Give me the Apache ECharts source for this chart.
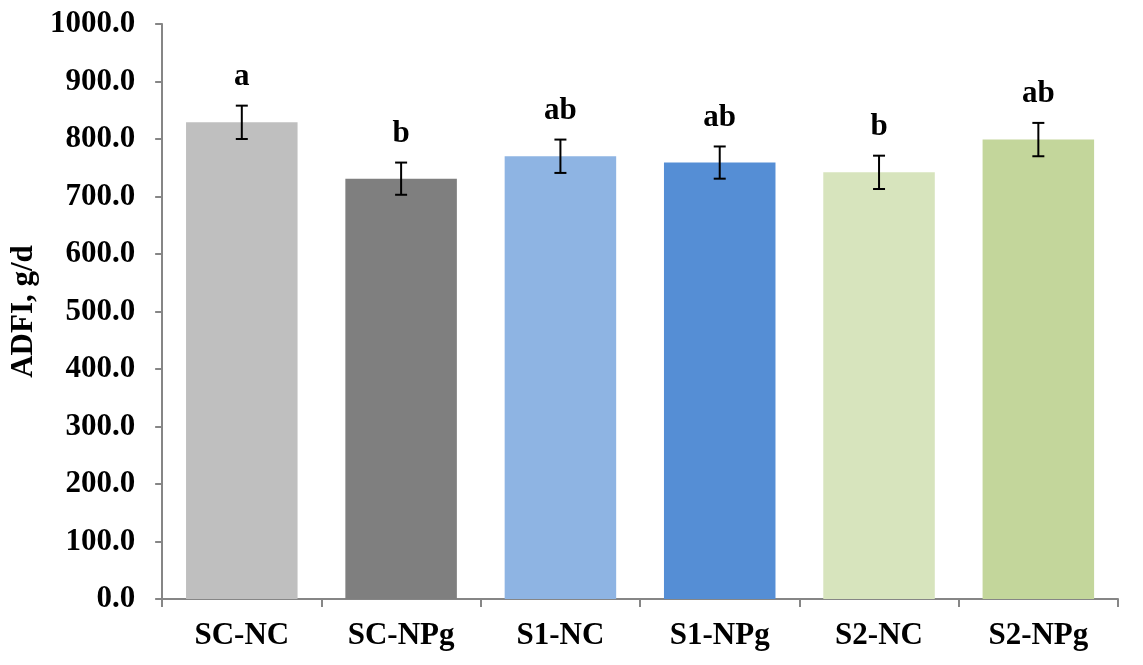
<!DOCTYPE html>
<html><head><meta charset="utf-8">
<script src="https://cdn.jsdelivr.net/npm/echarts@6/dist/echarts.min.js"></script>
<style>html,body{margin:0;padding:0;background:#fff}#c{width:1143px;height:665px}</style>
</head><body><div id="c"></div>
<script>
const categories = ['SC-NC','SC-NPg','S1-NC','S1-NPg','S2-NC','S2-NPg'];
const values = [829, 731, 770, 759, 742, 799];
const errors = [29, 28, 29, 28, 29, 29];
const letters = ['a','b','ab','ab','b','ab'];
const colors = ['#bfbfbf','#7f7f7f','#8eb4e3','#558ed5','#d7e4bd','#c3d69b'];
const yTicks = {min: 0, max: 1000, interval: 100};

const FONT = '"Liberation Serif","Times New Roman",serif';
const chart = echarts.init(document.getElementById('c'));
chart.setOption({
  animation: false,
  grid: {left: 162, right: 25, top: 24, bottom: 66},
  xAxis: {
    type: 'category', data: categories, boundaryGap: true,
    axisLine: {lineStyle: {color: '#868686', width: 2}},
    axisTick: {show: true, length: 8, alignWithLabel: false, lineStyle: {color: '#868686', width: 2}},
    axisLabel: {color: '#000', fontFamily: FONT, fontWeight: 'bold', fontSize: 31, margin: 21}
  },
  yAxis: {
    type: 'value', min: yTicks.min, max: yTicks.max, interval: yTicks.interval,
    name: 'ADFI, g/d', nameLocation: 'middle', nameGap: 114, nameRotate: 90,
    nameTextStyle: {color: '#000', fontFamily: FONT, fontWeight: 'bold', fontSize: 31},
    axisLine: {show: true, lineStyle: {color: '#868686', width: 2}},
    axisTick: {show: true, length: 7, lineStyle: {color: '#868686', width: 2}},
    splitLine: {show: false},
    axisLabel: {color: '#000', fontFamily: FONT, fontWeight: 'bold', fontSize: 31, margin: 27,
      formatter: v => v.toFixed(1)}
  },
  series: [
    {
      type: 'bar', barCategoryGap: '30%',
      data: values.map((v, i) => ({value: v, itemStyle: {color: colors[i]}}))
    },
    {
      type: 'custom', z: 10,
      data: values.map((v, i) => [i, v, errors[i]]),
      renderItem: function (params, api) {
        const i = api.value(0), m = api.value(1), e = api.value(2);
        const top = api.coord([i, m + e]);
        const bot = api.coord([i, m - e]);
        const hw = 6;
        const st = {stroke: '#000', lineWidth: 2};
        return {
          type: 'group',
          children: [
            {type: 'line', shape: {x1: top[0], y1: top[1], x2: bot[0], y2: bot[1]}, style: st},
            {type: 'line', shape: {x1: top[0] - hw, y1: top[1], x2: top[0] + hw, y2: top[1]}, style: st},
            {type: 'line', shape: {x1: bot[0] - hw, y1: bot[1], x2: bot[0] + hw, y2: bot[1]}, style: st},
            {type: 'text', x: top[0], y: top[1] - 13,
              style: {text: letters[params.dataIndex], fill: '#000', font: 'bold 31px ' + FONT,
                align: 'center', verticalAlign: 'bottom'}}
          ]
        };
      }
    }
  ]
});
</script></body></html>
